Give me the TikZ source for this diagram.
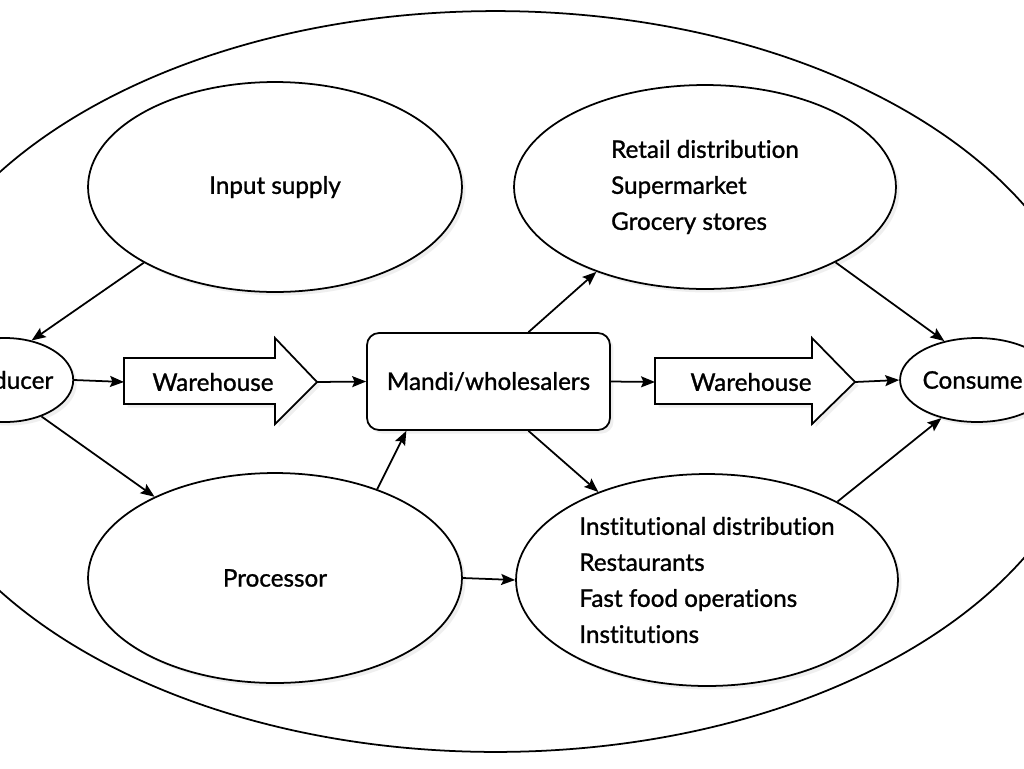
\documentclass[tikz,border=0pt]{standalone}
\usepackage{fontspec}
\setmainfont{Lato}[Ligatures={NoCommon,NoContextual},BoldFont={Lato},BoldFeatures={FakeBold=1.1}]
\usetikzlibrary{shapes.geometric,arrows.meta,shadows}
\begin{document}
\begin{tikzpicture}[x=0.02cm,y=-0.02cm,
  every node/.style={font=\fontsize{13.8}{20.5}\selectfont\bfseries},
  oval/.style={ellipse,draw,line width=1pt,inner sep=0pt,fill=white,
    drop shadow={shadow xshift=2pt,shadow yshift=-2pt,opacity=0.12}},
  conn/.style={line width=1pt,-{Stealth[length=0.28cm,width=0.22cm,inset=0.05cm]}},
  bigarrow/.style={draw,line width=1pt,fill=white,
    drop shadow={shadow xshift=2pt,shadow yshift=-2pt,opacity=0.12}}]
\clip (0,0) rectangle (1024,768);
\fill[white] (0,0) rectangle (1024,768);
% outer ellipse
\node[ellipse,draw,line width=1pt,inner sep=0pt,minimum width=24.04cm,minimum height=14.82cm] (outer) at (495.5,381.5) {};
% ellipses
\node[oval,minimum width=7.48cm,minimum height=4.2cm] (inp) at (275,187) {Input supply};
\node[oval,minimum width=7.64cm,minimum height=4.08cm,align=left] (ret) at (705,187) {Retail distribution\\Supermarket\\Grocery stores};
\node[oval,minimum width=7.48cm,minimum height=4.2cm] (proc) at (275,578) {Processor};
\node[oval,minimum width=7.64cm,minimum height=4.24cm,align=left] (inst) at (707,580) {Institutional distribution\\Restaurants\\Fast food operations\\Institutions};
\node[oval,minimum width=2.68cm,minimum height=1.68cm] (prod) at (5,380) {Producer};
\node[oval,minimum width=2.68cm,minimum height=1.68cm] (cons) at (977,380) {Consumer};
% mandi box
\node[draw,line width=1pt,rounded corners=0.24cm,fill=white,minimum width=4.86cm,minimum height=1.94cm,
  drop shadow={shadow xshift=2pt,shadow yshift=-2pt,opacity=0.12}] (mandi) at (488.5,381.5) {Mandi/wholesalers};
% warehouse arrows
\draw[bigarrow] (124,358) -- (275,358) -- (275,338) -- (317,382) -- (275,424) -- (275,404) -- (124,404) -- cycle;
\coordinate (w1in) at (124,382);
\coordinate (w1out) at (317,382);
\node (w1) at (213,382) {Warehouse};
\draw[bigarrow] (655,358) -- (812,358) -- (812,338) -- (855,382) -- (812,424) -- (812,404) -- (655,404) -- cycle;
\coordinate (w2in) at (655,382);
\coordinate (w2out) at (855,382);
\node (w2) at (751,382) {Warehouse};
% connectors
\draw[conn] (inp.210) -- (prod.56);
\draw[conn] (prod.east) -- (w1in);
\draw[conn] (w1out) -- (mandi.west);
\draw[conn] (prod.-45) -- (proc.146);
\draw[conn] (proc.41) -- (mandi.211);
\draw[conn] (mandi.51) -- (ret.218);
\draw[conn] (mandi.-51) -- (inst.141);
\draw[conn] (mandi.east) -- (w2in);
\draw[conn] (w2out) -- (cons.west);
\draw[conn] (ret.-30) -- (cons.130);
\draw[conn] (inst.31) -- (cons.227);
\draw[conn] (proc.east) -- (inst.west);
\end{tikzpicture}
\end{document}
